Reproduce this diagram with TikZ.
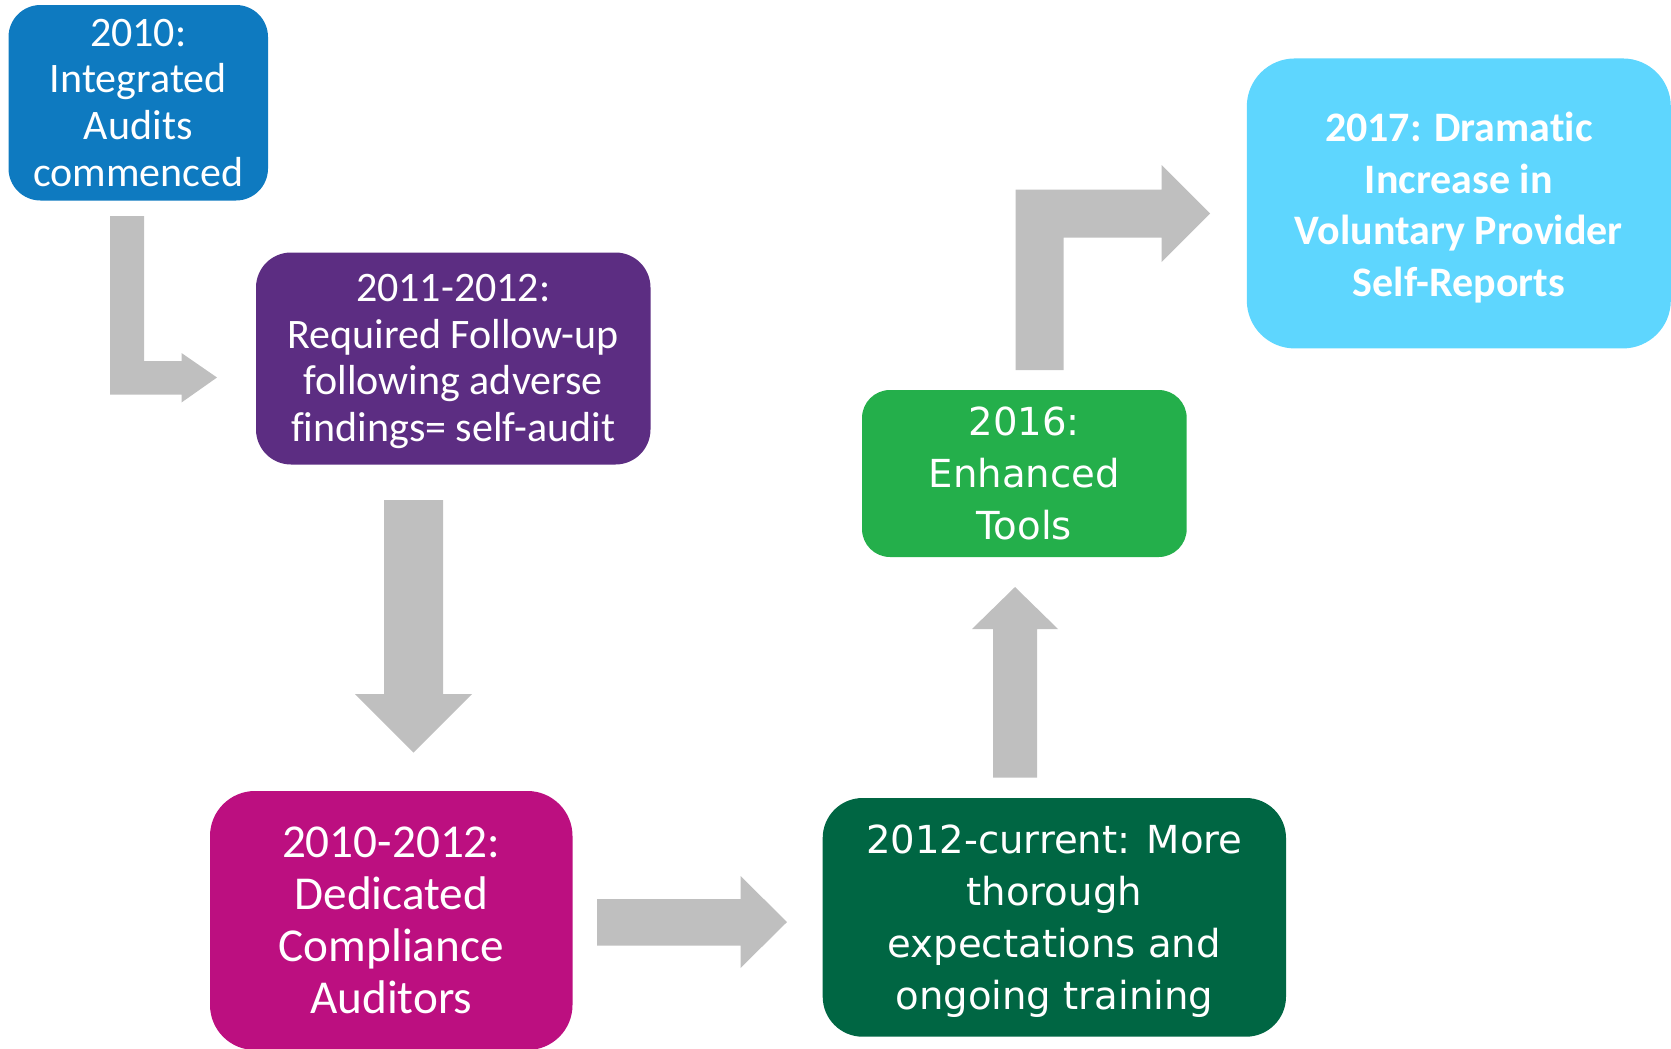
\documentclass[tikz,border=0pt]{standalone}
\usepackage{fontspec}
\setmainfont{Carlito}[Ligatures=NoCommon]
\newfontfamily\dejavu{DejaVu Sans}
\definecolor{cblue}{HTML}{0E7AC0}
\definecolor{cpurple}{HTML}{5C2D82}
\definecolor{cmagenta}{HTML}{BC0F80}
\definecolor{cdkgreen}{HTML}{006643}
\definecolor{cltgreen}{HTML}{24AF4B}
\definecolor{ccyan}{HTML}{5ED6FE}
\definecolor{cgrey}{HTML}{BFBFBF}
\tikzset{
  box/.style={rectangle, inner sep=0pt},
  txt/.style={inner sep=0pt, align=center, text=white},
  calfont/.style={font=\fontsize{21}{23.4}\selectfont},
  bigcal/.style={font=\fontsize{23.6}{26}\selectfont},
  boldcal/.style={font=\fontsize{21}{25.7}\selectfont\bfseries},
  dvfont/.style={font=\dejavu\fontsize{19.3}{26}\selectfont},
  blockarrow/.style={fill=cgrey, draw=none}
}
\begin{document}
\begin{tikzpicture}[x=0.5pt, y=-0.5pt]
\useasboundingbox (0,0) rectangle (1671,1049);

% boxes
\node[box, fill=cblue, rounded corners=16pt, minimum width=129.75pt, minimum height=97.75pt]
  (b1) at (138.25,102.75) {};
\node[box, fill=cpurple, rounded corners=17.5pt, minimum width=197.25pt, minimum height=106pt]
  (b2) at (453.25,358.5) {};
\node[box, fill=cmagenta, rounded corners=22.5pt, minimum width=181.25pt, minimum height=129.5pt]
  (b3) at (391.25,920.5) {};
\node[box, fill=cdkgreen, rounded corners=20pt, minimum width=231.65pt, minimum height=119.35pt]
  (b4) at (1054.35,917.35) {};
\node[box, fill=cltgreen, rounded corners=14pt, minimum width=162.35pt, minimum height=83.5pt]
  (b5) at (1024.35,473.5) {};
\node[box, fill=ccyan, rounded corners=24pt, minimum width=212pt, minimum height=145pt]
  (b6) at (1458.8,203.45) {};

% texts
\node[txt, calfont] (t1) at (138.25,102.75) {2010:\\Integrated\\Audits\\commenced};
\node[txt, calfont] (t2) at (453.25,361.5) {2011-2012:\\Required Follow-up\\following adverse\\findings= self-audit};
\node[txt, bigcal] (t3) at (391.25,920.5) {2010-2012:\\Dedicated\\Compliance\\Auditors};
\node[txt, dvfont] (t4) at (1054.35,921) {2012-current: More\\thorough\\expectations and\\ongoing training};
\node[txt, dvfont] (t5) at (1024.35,473.5) {2016:\\Enhanced\\Tools};
\node[txt, boldcal] (t6) at (1458.8,207.5) {2017: Dramatic\\Increase in\\Voluntary Provider\\Self-Reports};

% block arrows
\fill[blockarrow] (110,216) -- (144,216) -- (144,361) -- (181.5,361) -- (181.5,353)
  -- (217,377.5) -- (181.5,402.5) -- (181.5,394.5) -- (110,394.5) -- cycle;
\fill[blockarrow] (384,500) -- (443,500) -- (443,694) -- (472,694) -- (413.5,752.5)
  -- (355,694) -- (384,694) -- cycle;
\fill[blockarrow] (597,899) -- (740.5,899) -- (740.5,876) -- (787,922) -- (740.5,968)
  -- (740.5,945.5) -- (597,945.5) -- cycle;
\fill[blockarrow] (993,777.5) -- (993,629) -- (972,629) -- (1015,587) -- (1058,629)
  -- (1037,629) -- (1037,777.5) -- cycle;
\fill[blockarrow] (1015.5,370) -- (1015.5,189.5) -- (1161.5,189.5) -- (1161.5,165)
  -- (1210,213.5) -- (1161.5,262) -- (1161.5,237.5) -- (1063.5,237.5) -- (1063.5,370) -- cycle;
\end{tikzpicture}
\end{document}
